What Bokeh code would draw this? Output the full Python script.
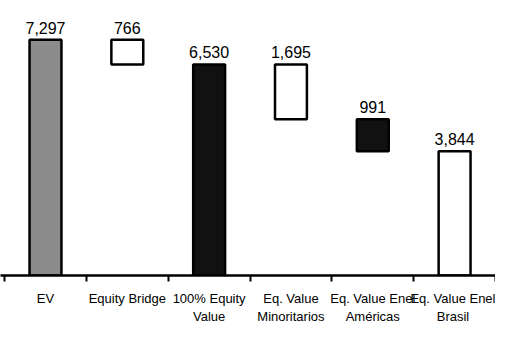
from bokeh.plotting import figure
from bokeh.models import ColumnDataSource, FixedTicker, Range1d
from bokeh.core.properties import value
from bokeh.embed import file_html
from bokeh.resources import INLINE

categories = ["EV", "Equity Bridge", "100% Equity\nValue", "Eq. Value\nMinoritarios",
              "Eq. Value Enel\nAméricas", "Eq. Value Enel\nBrasil"]
values = [7297, 766, 6530, 1695, 991, 3844]
kinds = ["total", "decrease", "total", "decrease", "decrease", "total"]
value_labels = ["7,297", "766", "6,530", "1,695", "991", "3,844"]
fills = ["#8c8c8c", "white", "#111111", "white", "#111111", "white"]

# waterfall bottoms / tops
bottoms, tops = [], []
running = 0
for v, k in zip(values, kinds):
    if k == "total":
        b, t = 0, v
        running = v
    else:
        t = running
        b = running - v
        running = b
    bottoms.append(b)
    tops.append(t)

xs = list(range(len(categories)))
src = ColumnDataSource(dict(x=xs, bottom=bottoms, top=tops, fill=fills, label=value_labels))

FONT = "'Liberation Sans Narrow', 'Liberation Sans', sans-serif"

p = figure(width=495, height=326, output_backend="svg", toolbar_location=None,
           x_range=Range1d(-0.55, 5.5), y_range=Range1d(0, 8510),
           min_border_left=0, min_border_right=0, min_border_top=0, min_border_bottom=0)
p.vbar(x="x", bottom="bottom", top="top", width=0.39, fill_color="fill",
       line_color="black", line_width=2.5, source=src)
p.text(x="x", y="top", text="label", source=src, text_align="center",
       text_baseline="bottom", y_offset=-6, text_font=value(FONT), text_font_size="16px",
       text_color="black")

p.yaxis.visible = False
p.xgrid.visible = False
p.ygrid.visible = False
p.outline_line_color = None

ax = p.xaxis[0]
ax.ticker = FixedTicker(ticks=xs, minor_ticks=[i + 0.5 for i in range(-1, len(categories))])
ax.major_label_overrides = {i: c for i, c in enumerate(categories)}
ax.major_tick_line_color = None
ax.minor_tick_out = 6
ax.minor_tick_in = 0
ax.minor_tick_line_width = 2
ax.minor_tick_line_color = "black"
ax.axis_line_width = 2.5
ax.axis_line_color = "black"
ax.major_label_text_font = FONT
ax.major_label_text_font_size = "13px"
ax.major_label_text_color = "black"
ax.major_label_standoff = 9

open("out.html", "w").write(file_html(p, INLINE))
